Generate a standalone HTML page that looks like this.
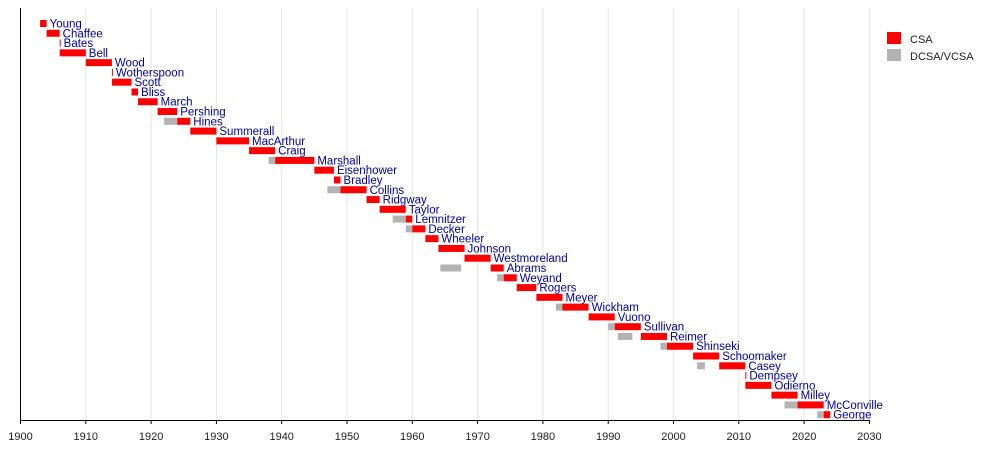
<!DOCTYPE html>
<html><head><meta charset="utf-8"><style>body{margin:0;background:#fff}svg{display:block}text{font-family:"Liberation Sans",sans-serif}</style></head>
<body>
<svg id="s" width="1000" height="470" xmlns="http://www.w3.org/2000/svg"></svg>
<script>
const s=document.getElementById('s');const K=6.53;const X=y=>20.5+(y-1900)*K;
let h='';
for(let y=1910;y<=2030;y+=10)h+=`<line x1="${X(y)}" y1="8" x2="${X(y)}" y2="420" stroke="#e4e4e4" stroke-width="1"/>`;
const d=[["Young",1903,1904],["Chaffee",1904,1906],["Bates",1906,1906.1],["Bell",1906,1910],["Wood",1910,1914],["Wotherspoon",1914,1914.1],["Scott",1914,1917],["Bliss",1917,1918],["March",1918,1921],["Pershing",1921,1924],["Hines",1924,1926,1922,1924],["Summerall",1926,1930],["MacArthur",1930,1935],["Craig",1935,1939],["Marshall",1939,1945,1938,1939],["Eisenhower",1945,1948],["Bradley",1948,1949],["Collins",1949,1953,1947,1949],["Ridgway",1953,1955],["Taylor",1955,1959],["Lemnitzer",1959,1960,1957,1959],["Decker",1960,1962,1959,1960],["Wheeler",1962,1964],["Johnson",1964,1968],["Westmoreland",1968,1972],["Abrams",1972,1974,1964.3,1967.5],["Weyand",1974,1976,1973,1974],["Rogers",1976,1979],["Meyer",1979,1983],["Wickham",1983,1987,1982,1983],["Vuono",1987,1991],["Sullivan",1991,1995,1990,1991],["Reimer",1995,1999,1991.5,1993.7],["Shinseki",1999,2003,1998,1999],["Schoomaker",2003,2007],["Casey",2007,2011,2003.6,2004.8],["Dempsey",2011,2011.1],["Odierno",2011,2015],["Milley",2015,2019],["McConville",2019,2023,2017,2019],["George",2023,2024,2022,2023]];
d.forEach((r,i)=>{const c=23.5+i*9.78;
if(r[3]!==undefined)h+=`<rect x="${X(r[3])}" y="${c-3.5}" width="${(r[4]-r[3])*K}" height="7" fill="#b3b3b3"/>`;
const w=Math.max((r[2]-r[1])*K,1);
h+=`<rect x="${X(r[1])}" y="${c-3.5}" width="${w}" height="7" fill="#ff0000"/>`;
h+=`<text x="${X(r[1])+w+3}" y="${c+4}" font-size="11.5" fill="#0000a0">${r[0]}</text>`;});
h+=`<line x1="20.5" y1="8" x2="20.5" y2="420.5" stroke="#000"/><line x1="20" y1="420.5" x2="${X(2030)}" y2="420.5" stroke="#000"/>`;
for(let y=1900;y<=2030;y+=10)h+=`<line x1="${X(y)}" y1="420" x2="${X(y)}" y2="424" stroke="#000"/><text x="${X(y)}" y="440" font-size="11" text-anchor="middle" fill="#222">${y}</text>`;
h+=`<rect x="887" y="32" width="14" height="12" fill="#ff0000"/><text x="910" y="43" font-size="11" fill="#222">CSA</text>`;
h+=`<rect x="887" y="49" width="14" height="12" fill="#b3b3b3"/><text x="910" y="60" font-size="11" fill="#222">DCSA/VCSA</text>`;
s.innerHTML=h;
</script>
</body></html>
